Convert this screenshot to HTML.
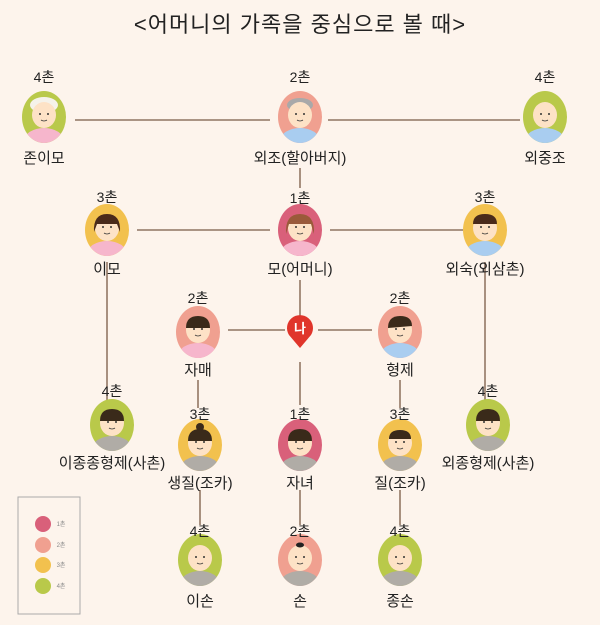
<!DOCTYPE html>
<html><head><meta charset="utf-8"><style>
html,body{margin:0;padding:0;background:#fdf4ec;}
svg{display:block}
text{font-family:"Liberation Sans","Noto Sans CJK KR",sans-serif;fill:#222;text-anchor:middle}
</style></head><body>
<svg width="600" height="625" viewBox="0 0 600 625" xmlns="http://www.w3.org/2000/svg">
<defs>
<clipPath id="ov"><ellipse cx="0" cy="0" rx="22" ry="26"/></clipPath>
<g id="fc">
  <ellipse cx="0" cy="-2" rx="12" ry="13" fill="#fde2c6"/>
  <circle cx="-4" cy="-3" r="1" fill="#333"/><circle cx="4" cy="-3" r="1" fill="#333"/>
  <path d="M-3 3 Q0 5 3 3" stroke="#333" stroke-width="0.8" fill="none"/>
</g>
</defs>
<rect width="600" height="625" fill="#fdf4ec"/>
<text x="300" y="32" font-size="22" style="letter-spacing:1px">&lt;어머니의 가족을 중심으로 볼 때&gt;</text>

<g stroke="#7a5a45" stroke-width="1.3">
<line x1="75" y1="120" x2="270" y2="120"/><line x1="328" y1="120" x2="520" y2="120"/>
<line x1="300" y1="168" x2="300" y2="188"/>
<line x1="137" y1="230" x2="270" y2="230"/><line x1="330" y1="230" x2="463" y2="230"/>
<line x1="107" y1="262" x2="107" y2="405"/><line x1="485" y1="262" x2="485" y2="405"/>
<line x1="300" y1="280" x2="300" y2="318"/>
<line x1="228" y1="330" x2="285" y2="330"/><line x1="318" y1="330" x2="372" y2="330"/>
<line x1="300" y1="362" x2="300" y2="405"/>
<line x1="198" y1="380" x2="198" y2="408"/><line x1="400" y1="380" x2="400" y2="408"/>
<line x1="200" y1="490" x2="200" y2="525"/><line x1="300" y1="490" x2="300" y2="525"/><line x1="400" y1="490" x2="400" y2="525"/>
</g>

<!-- nodes -->
<g transform="translate(44,117)"><ellipse rx="22" ry="26" fill="#b9c94a"/><g clip-path="url(#ov)"><ellipse cy="24" rx="20" ry="13" fill="#f6b6cc"/></g><ellipse cy="-12" rx="14" ry="8" fill="#f5f2ea"/><use href="#fc"/></g>
<g transform="translate(300,117)"><ellipse rx="22" ry="26" fill="#f0a090"/><g clip-path="url(#ov)"><ellipse cy="24" rx="20" ry="13" fill="#a9cdf0"/></g><ellipse cy="-12" rx="13" ry="7" fill="#a9a9a9"/><use href="#fc"/></g>
<g transform="translate(545,117)"><ellipse rx="22" ry="26" fill="#b9c94a"/><g clip-path="url(#ov)"><ellipse cy="24" rx="20" ry="13" fill="#a9cdf0"/></g><use href="#fc"/></g>

<g transform="translate(107,230)"><ellipse rx="22" ry="26" fill="#f2c14e"/><g clip-path="url(#ov)"><ellipse cy="24" rx="20" ry="13" fill="#f6b6cc"/></g><use href="#fc"/><path d="M-13 2 Q-14 -16 0 -16 Q14 -16 13 2 L10 -6 L-10 -6Z" fill="#4a2a1a"/></g>
<g transform="translate(300,230)"><ellipse rx="22" ry="26" fill="#d9607a"/><g clip-path="url(#ov)"><ellipse cy="24" rx="20" ry="13" fill="#f6b6cc"/></g><use href="#fc"/><path d="M-14 4 Q-15 -16 0 -16 Q15 -16 14 4 L11 -6 L-11 -6Z" fill="#9a5a3a"/></g>
<g transform="translate(485,230)"><ellipse rx="22" ry="26" fill="#f2c14e"/><g clip-path="url(#ov)"><ellipse cy="24" rx="20" ry="13" fill="#a9cdf0"/></g><use href="#fc"/><path d="M-12 -6 Q-12 -16 0 -16 Q12 -16 12 -6Z" fill="#4a2a1a"/></g>

<g transform="translate(198,332)"><ellipse rx="22" ry="26" fill="#f0a090"/><g clip-path="url(#ov)"><ellipse cy="24" rx="20" ry="13" fill="#f6b6cc"/></g><use href="#fc"/><path d="M-12 -4 Q-12 -16 0 -16 Q12 -16 12 -4Z" fill="#3a2a1a"/></g>
<g transform="translate(400,332)"><ellipse rx="22" ry="26" fill="#f0a090"/><g clip-path="url(#ov)"><ellipse cy="24" rx="20" ry="13" fill="#a9cdf0"/></g><use href="#fc"/><path d="M-12 -4 Q-12 -16 0 -16 Q12 -16 12 -6Z" fill="#3a2a1a"/></g>

<g transform="translate(300,330)"><path d="M0 18 L-11 5 A13 13 0 1 1 11 5Z" fill="#e0352b"/><text x="0" y="3" font-size="13" style="fill:#fff;font-weight:bold">나</text></g>

<g transform="translate(112,425)"><ellipse rx="22" ry="26" fill="#b9c94a"/><g clip-path="url(#ov)"><ellipse cy="24" rx="20" ry="13" fill="#b0aca6"/></g><use href="#fc"/><path d="M-12 -4 Q-12 -16 0 -16 Q12 -16 12 -4Z" fill="#3a2a1a"/></g>
<g transform="translate(200,445)"><ellipse rx="22" ry="26" fill="#f2c14e"/><g clip-path="url(#ov)"><ellipse cy="24" rx="20" ry="13" fill="#b0aca6"/></g><use href="#fc"/><path d="M-12 -4 Q-12 -16 0 -16 Q12 -16 12 -4Z" fill="#3a2a1a"/><circle cy="-18" r="4" fill="#3a2a1a"/></g>
<g transform="translate(300,445)"><ellipse rx="22" ry="26" fill="#d9607a"/><g clip-path="url(#ov)"><ellipse cy="24" rx="20" ry="13" fill="#b0aca6"/></g><use href="#fc"/><path d="M-12 -4 Q-12 -16 0 -16 Q12 -16 12 -4Z" fill="#3a2a1a"/></g>
<g transform="translate(400,445)"><ellipse rx="22" ry="26" fill="#f2c14e"/><g clip-path="url(#ov)"><ellipse cy="24" rx="20" ry="13" fill="#b0aca6"/></g><use href="#fc"/><path d="M-11 -6 Q-11 -15 0 -15 Q11 -15 11 -6Z" fill="#3a2a1a"/></g>
<g transform="translate(488,425)"><ellipse rx="22" ry="26" fill="#b9c94a"/><g clip-path="url(#ov)"><ellipse cy="24" rx="20" ry="13" fill="#b0aca6"/></g><use href="#fc"/><path d="M-12 -4 Q-12 -16 0 -16 Q12 -16 12 -4Z" fill="#3a2a1a"/></g>

<g transform="translate(200,560)"><ellipse rx="22" ry="26" fill="#b9c94a"/><g clip-path="url(#ov)"><ellipse cy="24" rx="20" ry="13" fill="#b0aca6"/></g><use href="#fc"/></g>
<g transform="translate(300,560)"><ellipse rx="22" ry="26" fill="#f0a090"/><g clip-path="url(#ov)"><ellipse cy="24" rx="20" ry="13" fill="#b0aca6"/></g><use href="#fc"/><ellipse cy="-15" rx="4" ry="2.5" fill="#222"/></g>
<g transform="translate(400,560)"><ellipse rx="22" ry="26" fill="#b9c94a"/><g clip-path="url(#ov)"><ellipse cy="24" rx="20" ry="13" fill="#b0aca6"/></g><use href="#fc"/></g>

<!-- labels -->
<g font-size="14">
<text x="44" y="82">4촌</text><text x="300" y="82">2촌</text><text x="545" y="82">4촌</text>
<text x="44" y="163" font-size="15">존이모</text><text x="300" y="163" font-size="15">외조(할아버지)</text><text x="545" y="163" font-size="15">외중조</text>
<text x="107" y="202">3촌</text><text x="300" y="203">1촌</text><text x="485" y="202">3촌</text>
<text x="107" y="274" font-size="15">이모</text><text x="300" y="274" font-size="15">모(어머니)</text><text x="485" y="274" font-size="15">외숙(외삼촌)</text>
<text x="198" y="303">2촌</text><text x="400" y="303">2촌</text>
<text x="198" y="375" font-size="15">자매</text><text x="400" y="375" font-size="15">형제</text>
<text x="112" y="396">4촌</text><text x="488" y="396">4촌</text>
<text x="200" y="419">3촌</text><text x="300" y="419">1촌</text><text x="400" y="419">3촌</text>
<text x="112" y="468" font-size="15">이종종형제(사촌)</text><text x="488" y="468" font-size="15">외종형제(사촌)</text>
<text x="200" y="488" font-size="15">생질(조카)</text><text x="300" y="488" font-size="15">자녀</text><text x="400" y="488" font-size="15">질(조카)</text>
<text x="200" y="536">4촌</text><text x="300" y="536">2촌</text><text x="400" y="536">4촌</text>
<text x="200" y="606" font-size="15">이손</text><text x="300" y="606" font-size="15">손</text><text x="400" y="606" font-size="15">종손</text>
</g>

<rect x="18" y="497" width="62" height="117" fill="none" stroke="#aaa" stroke-width="1"/>
<circle cx="43" cy="524" r="8" fill="#d9607a"/><circle cx="43" cy="545" r="8" fill="#f0a090"/>
<circle cx="43" cy="565" r="8" fill="#f2c14e"/><circle cx="43" cy="586" r="8" fill="#b9c94a"/>
<g font-size="6" style="fill:#888"><text x="61" y="526" style="fill:#888">1촌</text><text x="61" y="547" style="fill:#888">2촌</text><text x="61" y="567" style="fill:#888">3촌</text><text x="61" y="588" style="fill:#888">4촌</text></g>
</svg>
</body></html>
